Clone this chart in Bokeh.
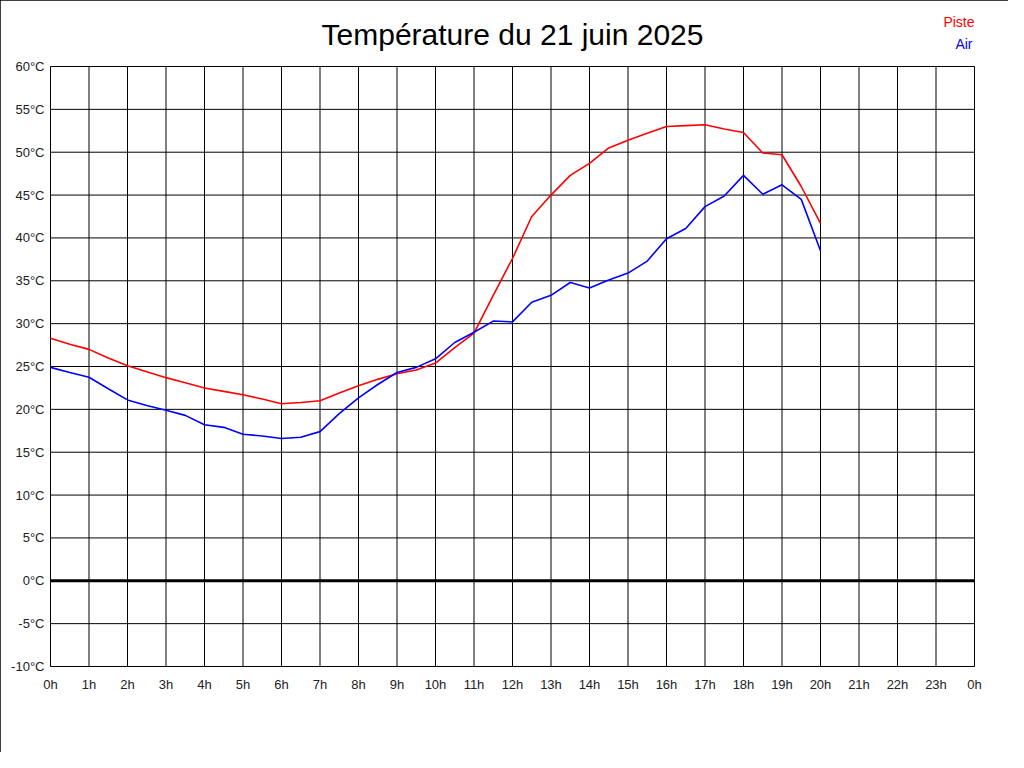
from bokeh.plotting import figure
from bokeh.models import Range1d, FixedTicker, Label
from bokeh.embed import file_html
from bokeh.resources import INLINE

hours = [i * 0.5 for i in range(41)]
piste = [28.3, 27.6, 27.0, 26.0, 25.1, 24.4, 23.7, 23.1, 22.5, 22.1,
         21.7, 21.2, 20.65, 20.8, 21.0, 21.9, 22.75, 23.5, 24.15, 24.6,
         25.4, 27.2, 28.9, 33.3, 37.6, 42.5, 45.0, 47.3, 48.7, 50.5,
         51.4, 52.2, 53.0, 53.1, 53.2, 52.7, 52.3, 49.9, 49.7, 46.0, 41.7]
air = [24.9, 24.3, 23.75, 22.4, 21.1, 20.45, 19.9, 19.3, 18.2, 17.9,
       17.1, 16.9, 16.6, 16.75, 17.4, 19.5, 21.35, 22.9, 24.3, 24.9,
       25.9, 27.8, 29.0, 30.3, 30.2, 32.5, 33.3, 34.8, 34.15, 35.1,
       35.9, 37.3, 39.9, 41.1, 43.65, 44.9, 47.3, 45.1, 46.2, 44.5, 38.5]

x_ticks = list(range(25))
x_labels = {t: f"{t % 24}h" for t in x_ticks}
y_ticks = list(range(-10, 61, 5))
y_labels = {t: f"{t}°C" for t in y_ticks}
title_text = "Température du 21 juin 2025"
series_names = ["Piste", "Air"]
series_colors = ["#ff0000", "#0000ff"]

FONT = "Liberation Sans"

X_MIN, X_MAX = x_ticks[0], x_ticks[-1]
Y_MIN, Y_MAX = y_ticks[0], y_ticks[-1]

# plot box: 0..24 h over 924 px, -10..60 °C over 600 px; the frame is a bit
# larger so that the title and legend texts can live inside it
PX_X = 924 / (X_MAX - X_MIN)
PX_Y = 600 / (Y_MAX - Y_MIN)
PAD = 2          # px of frame beyond the plot box left/right/bottom
TOP_EXTRA = 56   # px of frame above the top gridline

p = figure(frame_width=924 + 2 * PAD, frame_height=600 + PAD + TOP_EXTRA,
           x_range=Range1d(X_MIN - PAD / PX_X, X_MAX + PAD / PX_X),
           y_range=Range1d(Y_MIN - PAD / PX_Y, Y_MAX + TOP_EXTRA / PX_Y),
           output_backend="svg", toolbar_location=None, title_location=None,
           min_border_left=48, min_border_right=32,
           min_border_top=10, min_border_bottom=84)
p.styles = {"outline": "1px solid black", "outline-offset": "-1px"}
p.background_fill_color = "white"
p.border_fill_color = "white"
p.outline_line_color = None
p.grid.visible = False

for ax in (p.xaxis[0], p.yaxis[0]):
    ax.axis_line_color = None
    ax.major_tick_line_color = None
    ax.minor_tick_line_color = None
    ax.major_tick_out = 0
    ax.major_tick_in = 0
    ax.minor_tick_out = 0
    ax.minor_tick_in = 0
    ax.major_label_text_font = FONT
    ax.major_label_text_font_size = "13px"
    ax.major_label_text_color = "#222222"

p.xaxis[0].ticker = FixedTicker(ticks=x_ticks)
p.xaxis[0].major_label_overrides = x_labels
p.xaxis[0].major_label_standoff = 8
p.yaxis[0].ticker = FixedTicker(ticks=y_ticks)
p.yaxis[0].major_label_overrides = y_labels
p.yaxis[0].major_label_standoff = 4

# grid lines limited to the plot box, built from the tick lists
p.segment(x0=x_ticks, y0=[Y_MIN] * len(x_ticks), x1=x_ticks, y1=[Y_MAX] * len(x_ticks),
          line_color="black", line_width=1)
p.segment(x0=[X_MIN] * len(y_ticks), y0=y_ticks, x1=[X_MAX] * len(y_ticks), y1=y_ticks,
          line_color="black", line_width=1)
p.segment(x0=[X_MIN], y0=[0], x1=[X_MAX], y1=[0], line_color="black", line_width=3)

p.line(hours, piste, line_color=series_colors[0], line_width=1.6)
p.line(hours, air, line_color=series_colors[1], line_width=1.6)

p.add_layout(Label(x=(X_MIN + X_MAX) / 2, y=Y_MAX + 32 / PX_Y, text=title_text,
                   text_align="center", text_baseline="middle", text_font=FONT,
                   text_font_size="30px", text_color="black"))
p.add_layout(Label(x=X_MAX, y=Y_MAX + 45 / PX_Y, text=series_names[0], text_align="right",
                   text_baseline="middle", text_font=FONT,
                   text_font_size="14px", text_color=series_colors[0]))
p.add_layout(Label(x=X_MAX - 2 / PX_X, y=Y_MAX + 23 / PX_Y, text=series_names[1],
                   text_align="right", text_baseline="middle", text_font=FONT,
                   text_font_size="14px", text_color=series_colors[1]))

open("out.html", "w").write(file_html(p, INLINE))
